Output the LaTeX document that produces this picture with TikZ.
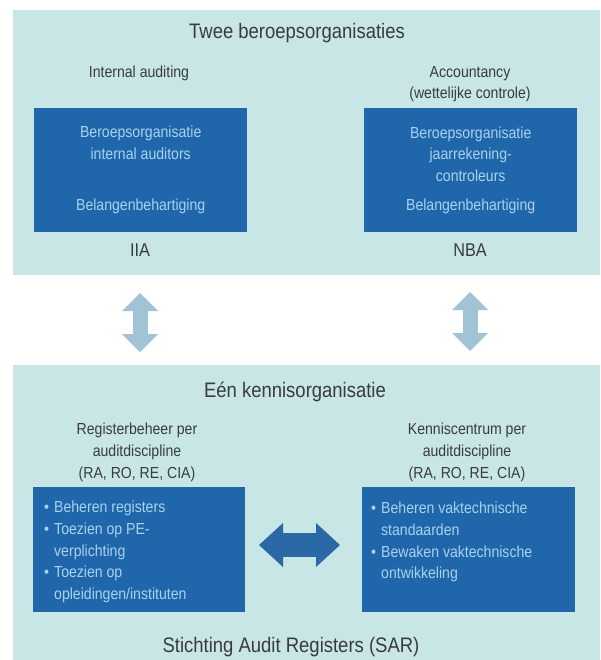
\documentclass[tikz,border=0pt]{standalone}
\usepackage{fontspec}
\setmainfont{Liberation Sans}[FakeStretch=0.88]
\usetikzlibrary{arrows.meta}
\definecolor{panelbg}{RGB}{199,230,229}
\definecolor{boxblue}{RGB}{31,103,170}
\definecolor{boxtext}{RGB}{168,210,238}
\definecolor{darktext}{RGB}{58,60,60}
\definecolor{lightarrow}{RGB}{160,196,214}
\definecolor{darkarrow}{RGB}{42,104,166}
\newcommand\bulletbox{\makebox[10pt][l]{•}}
\newcommand\bulletgap{\hspace*{10pt}}
\begin{document}
\begin{tikzpicture}[x=1pt,y=-1pt,
  panel/.style={fill=panelbg, draw=none, inner sep=0pt, anchor=north west},
  bluebox/.style={fill=boxblue, draw=none, inner sep=0pt, anchor=north west,
    minimum width=213pt, minimum height=124pt, text=boxtext, align=center,
    font=\fontsize{16}{21.5}\selectfont},
  listtext/.style={inner sep=0pt, anchor=north west, text=boxtext, align=left,
    font=\fontsize{16}{21.7}\selectfont},
  lbl/.style={inner sep=0pt, text=darktext, align=center,
    font=\fontsize{16}{21.7}\selectfont},
  bigtitle/.style={inner sep=0pt, text=darktext, font=\fontsize{21}{24}\selectfont},
  orgname/.style={inner sep=0pt, text=darktext, font=\fontsize{18.5}{22}\selectfont},
  vertarrow/.style={draw=lightarrow, line width=15pt,
    {Triangle[width=36pt,length=18pt,line width=0pt]}-{Triangle[width=36pt,length=18pt,line width=0pt]}},
  horarrow/.style={draw=darkarrow, line width=24pt,
    {Triangle[width=44pt,length=24pt,line width=0pt]}-{Triangle[width=44pt,length=24pt,line width=0pt]}}
]
\useasboundingbox (0,0) rectangle (600,660);
\fill[white] (0,0) rectangle (600,660);

% panels
\node[panel, minimum width=587pt, minimum height=265pt] (toppanel) at (13,10) {};
\node[panel, minimum width=587pt, minimum height=295pt] (botpanel) at (13,365) {};

% top panel
\node[bigtitle] (title1) at (297,33) {Twee beroepsorganisaties};
\node[lbl, anchor=base] (ia) at (139,78) {Internal auditing};
\node[lbl, anchor=base] (acc) at (470,99) {Accountancy\\(wettelijke controle)};
\node[bluebox] (box1) at (34,108) {Beroepsorganisatie\\internal auditors\\[30pt]Belangenbehartiging};
\node[bluebox] (box2) at (364,108) {Beroepsorganisatie\\jaarrekening-\\controleurs\\[8pt]Belangenbehartiging};
\node[orgname] (iia) at (140,250) {IIA};
\node[orgname] (nba) at (470,250) {NBA};

% vertical arrows
\coordinate (ua1) at (140,293);
\coordinate (ua2) at (140,352);
\coordinate (ub1) at (470,292);
\coordinate (ub2) at (470,351);
\draw[vertarrow] (ua1) -- (ua2);
\draw[vertarrow] (ub1) -- (ub2);

% bottom panel
\node[bigtitle] (title2) at (295,392) {Eén kennisorganisatie};
\node[lbl, anchor=base] (reg) at (137,478) {Registerbeheer per\\auditdiscipline\\(RA, RO, RE, CIA)};
\node[lbl, anchor=base] (ken) at (467,478) {Kenniscentrum per\\auditdiscipline\\(RA, RO, RE, CIA)};
\node[panel, fill=boxblue, minimum width=212pt, minimum height=125pt] (box3) at (33,487) {};
\node[panel, fill=boxblue, minimum width=213pt, minimum height=125pt] (box4) at (362,487) {};
\node[listtext] (list3) at (44,501) {\bulletbox Beheren registers\\\bulletbox Toezien op PE-\\\bulletgap verplichting\\\bulletbox Toezien op\\\bulletgap opleidingen/instituten};
\node[listtext] (list4) at (371,502) {\bulletbox Beheren vaktechnische\\\bulletgap standaarden\\\bulletbox Bewaken vaktechnische\\\bulletgap ontwikkeling};

% horizontal arrow
\coordinate (ha1) at (259,545);
\coordinate (ha2) at (340,545);
\draw[horarrow] (ha1) -- (ha2);

\node[bigtitle] (sar) at (291,647) {Stichting Audit Registers (SAR)};
\end{tikzpicture}
\end{document}
